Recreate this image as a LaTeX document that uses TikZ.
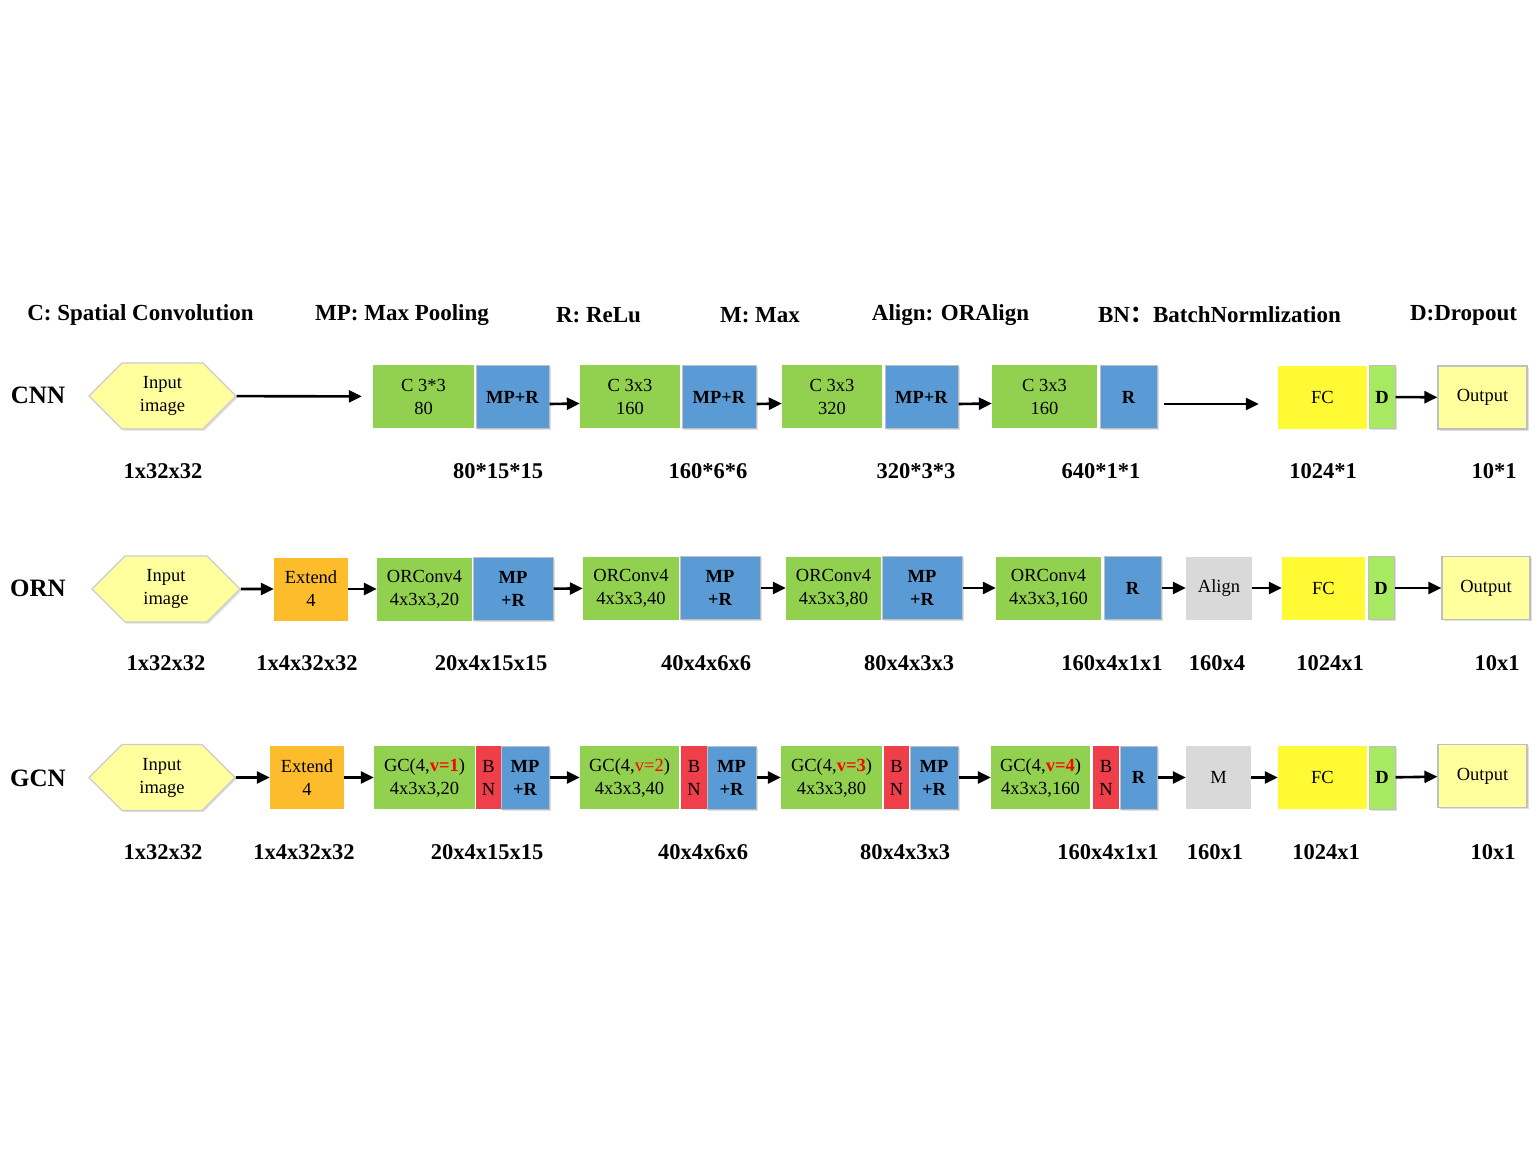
\documentclass[tikz,border=0pt]{standalone}
\usepackage{fontspec}
\setmainfont{Liberation Serif}
\newfontfamily\cjk{Noto Sans CJK SC}
\usetikzlibrary{arrows.meta,shapes.symbols,shadows}
\definecolor{cvgreen}{HTML}{92D050}
\definecolor{mpblue}{HTML}{5B9BD5}
\definecolor{bnred}{HTML}{EF3F4B}
\definecolor{extorange}{HTML}{FCBC2C}
\definecolor{fcyellow}{HTML}{FFFA33}
\definecolor{dgreen}{HTML}{A8E962}
\definecolor{outyellow}{HTML}{FFFF9E}
\definecolor{lgray}{HTML}{D9D9D9}
\definecolor{vred}{HTML}{FF0000}
\newcommand{\boxfont}{\fontsize{18.5}{23}\selectfont}

\begin{document}
\begin{tikzpicture}[x=1pt,y=1pt,
  blk/.style={inner sep=0pt, minimum height=63, align=center, font=\boxfont},
  shd/.style={drop shadow={shadow xshift=1.5pt, shadow yshift=-1.5pt, opacity=.25}},
  conv/.style={blk, fill=cvgreen},
  pool/.style={blk, shd, fill=mpblue, draw=black!25, line width=1pt, font=\boxfont\bfseries},
  bnorm/.style={blk, fill=bnred},
  ext/.style={blk, fill=extorange},
  fcl/.style={blk, fill=fcyellow},
  drop/.style={blk, shd, fill=dgreen, draw=black!25, line width=1pt, font=\boxfont\bfseries},
  outp/.style={blk, shd, fill=outyellow, draw=black!25, line width=1.2pt},
  gbox/.style={blk, fill=lgray},
  inhex/.style={signal, signal to=east and west, signal pointer angle=90, shd,
                fill=outyellow, draw=black!20, line width=1.2pt, inner sep=0pt,
                minimum width=147, minimum height=66, align=center, font=\boxfont},
  arr/.style={-{Triangle[length=13pt,width=12pt]}, line width=2.6pt},
  hdr/.style={font=\fontsize{23}{25}\selectfont\bfseries},
  net/.style={font=\fontsize{25}{28}\selectfont\bfseries},
  dim/.style={font=\fontsize{22.5}{24}\selectfont\bfseries},
]
\useasboundingbox (0,0) rectangle (1538,-1154);

%% ---- legend ----
\node[hdr] (h1) at (140.5,-315) {C: Spatial Convolution};
\node[hdr] (h2) at (402,-315) {MP: Max Pooling};
\node[hdr] (h3) at (598.5,-315) {R: ReLu};
\node[hdr] (h4) at (760,-315) {M: Max};
\node[hdr] (h5) at (950.5,-315) {Align: ORAlign};
\node[hdr] (h6) at (1219.5,-315) {BN{\cjk ：}BatchNormlization};
\node[hdr] (h7) at (1463.5,-315) {D:Dropout};

%% ---- row names ----
\node[net] (cnn) at (38,-395) {CNN};
\node[net] (orn) at (38,-588) {ORN};
\node[net] (gcn) at (38,-778) {GCN};

%% ---- CNN ----
\node[inhex] (in1) at (162.5,-396) {Input\\image};
\node[conv, minimum width=101] (c1) at (423.5,-396.5) {C 3*3\\80};
\node[pool, minimum width=73] (m1) at (512.5,-397) {MP+R};
\node[conv, minimum width=100] (c2) at (630,-396.5) {C 3x3\\160};
\node[pool, minimum width=74] (m2) at (719,-397) {MP+R};
\node[conv, minimum width=100] (c3) at (832,-396.5) {C 3x3\\320};
\node[pool, minimum width=73] (m3) at (921.5,-397) {MP+R};
\node[conv, minimum width=105] (c4) at (1044.5,-396.5) {C 3x3\\160};
\node[pool, minimum width=57] (r4) at (1128.5,-397) {R};
\node[fcl, minimum width=89] (fc1) at (1322.5,-397) {FC};
\node[drop, minimum width=26] (d1) at (1382,-397) {D};
\node[outp, minimum width=89] (out1) at (1482.5,-397.5) {Output};

\draw[arr, shorten >=11pt] (in1) -- (c1);
\draw[arr] ([yshift=-7]m1.east) -- ([yshift=-7]c2.west);
\draw[arr] ([yshift=-7]m2.east) -- ([yshift=-7]c3.west);
\draw[arr] ([yshift=-7]m3.east) -- ([yshift=-7]c4.west);
\draw[arr, shorten <=6pt, shorten >=19pt] ([yshift=-7]r4.east) -- ([yshift=-7]fc1.west);
\draw[arr] (d1) -- (out1);

\node[dim] (s11) at (163,-471) {1x32x32};
\node[dim] (s12) at (498,-471) {80*15*15};
\node[dim] (s13) at (708,-471) {160*6*6};
\node[dim] (s14) at (916,-471) {320*3*3};
\node[dim] (s15) at (1101,-471) {640*1*1};
\node[dim] (s16) at (1323,-471) {1024*1};
\node[dim] (s17) at (1494,-471) {10*1};

%% ---- ORN ----
\node[inhex, minimum width=148] (in2) at (166,-589) {Input\\image};
\node[ext, minimum width=74] (ex2) at (311,-589) {Extend\\4};
\node[conv, minimum width=95] (o1) at (424.5,-589) {ORConv4\\4x3x3,20};
\node[pool, minimum width=80] (p1) at (513,-589) {MP\\+R};
\node[conv, minimum width=96] (o2) at (631,-588) {ORConv4\\4x3x3,40};
\node[pool, minimum width=80] (p2) at (720,-588) {MP\\+R};
\node[conv, minimum width=95] (o3) at (833.5,-588) {ORConv4\\4x3x3,80};
\node[pool, minimum width=80] (p3) at (922,-588) {MP\\+R};
\node[conv, minimum width=105] (o4) at (1048.5,-588) {ORConv4\\4x3x3,160};
\node[pool, minimum width=57] (r5) at (1132.5,-588) {R};
\node[gbox, minimum width=66] (al) at (1219,-588) {Align};
\node[fcl, minimum width=83] (fc2) at (1323.5,-588) {FC};
\node[drop, minimum width=26] (d2) at (1381,-588) {D};
\node[outp, minimum width=88] (out2) at (1486,-588) {Output};

\draw[arr] (in2) -- (ex2);
\draw[arr] (ex2) -- (o1);
\draw[arr] (p1) -- (o2);
\draw[arr] (p2) -- (o3);
\draw[arr] (p3) -- (o4);
\draw[arr] (r5) -- (al);
\draw[arr] (al) -- (fc2);
\draw[arr] (d2) -- (out2);

\node[dim] (s21) at (166,-663) {1x32x32};
\node[dim] (s22) at (307,-663) {1x4x32x32};
\node[dim] (s23) at (491,-663) {20x4x15x15};
\node[dim] (s24) at (706,-663) {40x4x6x6};
\node[dim] (s25) at (909,-663) {80x4x3x3};
\node[dim] (s26) at (1112,-663) {160x4x1x1};
\node[dim] (s27) at (1217,-663) {160x4};
\node[dim] (s28) at (1330,-663) {1024x1};
\node[dim] (s29) at (1497,-663) {10x1};

%% ---- GCN ----
\node[inhex, minimum width=146] (in3) at (162,-777.5) {Input\\image};
\node[ext, minimum width=74] (ex3) at (307,-777.5) {Extend\\4};
\node[conv, minimum width=101] (g1) at (424.5,-777.5) {GC(4,{\color{vred}\textbf{v=1}})\\4x3x3,20};
\node[bnorm, minimum width=25] (b1) at (488.5,-777.5) {B\\N};
\node[pool, minimum width=48] (q1) at (525,-777.5) {MP\\+R};
\node[conv, minimum width=99] (g2) at (629.5,-777.5) {GC(4,{\color{vred}v=2})\\4x3x3,40};
\node[bnorm, minimum width=26] (b2) at (694,-777.5) {B\\N};
\node[pool, minimum width=49] (q2) at (731.5,-777.5) {MP\\+R};
\node[conv, minimum width=101] (g3) at (831.5,-777.5) {GC(4,{\color{vred}\textbf{v=3}})\\4x3x3,80};
\node[bnorm, minimum width=25] (b3) at (896.5,-777.5) {B\\N};
\node[pool, minimum width=48] (q3) at (934,-777.5) {MP\\+R};
\node[conv, minimum width=99] (g4) at (1040.5,-777.5) {GC(4,{\color{vred}\textbf{v=4}})\\4x3x3,160};
\node[bnorm, minimum width=26] (b4) at (1106,-777.5) {B\\N};
\node[pool, minimum width=37] (r6) at (1138.5,-777.5) {R};
\node[gbox, minimum width=65] (mx) at (1218.5,-777.5) {M};
\node[fcl, minimum width=89] (fc3) at (1322.5,-777.5) {FC};
\node[drop, minimum width=26] (d3) at (1382,-777.5) {D};
\node[outp, minimum width=89] (out3) at (1482.5,-776) {Output};

\draw[arr] (in3) -- (ex3);
\draw[arr] (ex3) -- (g1);
\draw[arr] (q1) -- (g2);
\draw[arr] (q2) -- (g3);
\draw[arr] (q3) -- (g4);
\draw[arr] (r6) -- (mx);
\draw[arr] (mx) -- (fc3);
\draw[arr] (d3) -- (out3);

\node[dim] (s31) at (163,-852) {1x32x32};
\node[dim] (s32) at (304,-852) {1x4x32x32};
\node[dim] (s33) at (487,-852) {20x4x15x15};
\node[dim] (s34) at (703,-852) {40x4x6x6};
\node[dim] (s35) at (905,-852) {80x4x3x3};
\node[dim] (s36) at (1108,-852) {160x4x1x1};
\node[dim] (s37) at (1215,-852) {160x1};
\node[dim] (s38) at (1326,-852) {1024x1};
\node[dim] (s39) at (1493,-852) {10x1};

\end{tikzpicture}
\end{document}
